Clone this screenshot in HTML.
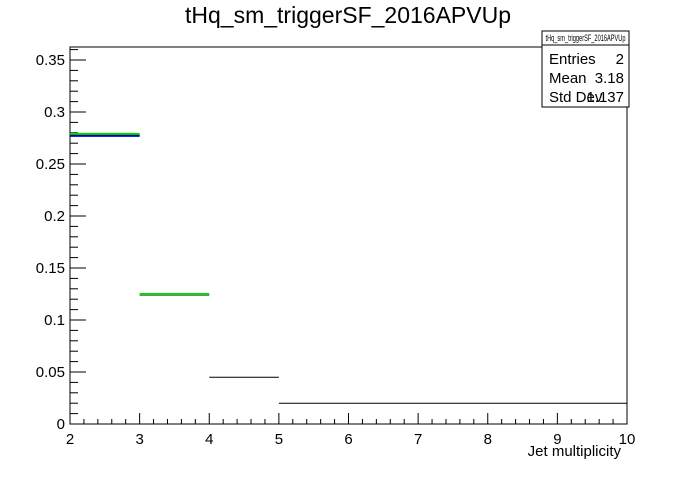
<!DOCTYPE html>
<html><head><meta charset="utf-8"><style>
body{margin:0;background:#fff;}
svg text{font-family:"Liberation Sans",Arial,sans-serif;}
</style></head><body>
<svg id="c" width="696" height="472" xmlns="http://www.w3.org/2000/svg">
<rect width="696" height="472" fill="#fff"/>
<text x="348" y="23" font-size="23" text-anchor="middle">tHq_sm_triggerSF_2016APVUp</text>
<g id="plot"></g>
<g>
<rect x="542" y="31" width="87" height="76" fill="#fff" stroke="#000"/>
<line x1="542" y1="45" x2="629" y2="45" stroke="#000"/>
<text x="585.5" y="41" font-size="9" text-anchor="middle" textLength="80" lengthAdjust="spacingAndGlyphs">tHq_sm_triggerSF_2016APVUp</text>
<text x="549" y="64" font-size="15">Entries</text><text x="624" y="64" font-size="15" text-anchor="end">2</text>
<text x="549" y="83" font-size="15">Mean</text><text x="624" y="83" font-size="15" text-anchor="end">3.18</text>
<text x="549" y="102" font-size="15">Std Dev</text><text x="624" y="102" font-size="15" text-anchor="end">1.137</text>
</g>
</svg>
<script>
const binEdges=[2,3,4,5,10];
const binValues=[0.278,0.124,0.045,0.020];
const greenValues=[0.279,0.125,null,null];
const blueValues=[0.277,null,null,null];
const xTicks=[2,3,4,5,6,7,8,9,10];
const yTicks=[0,0.05,0.1,0.15,0.2,0.25,0.3,0.35];
const yTickLabels=["0","0.05","0.1","0.15","0.2","0.25","0.3","0.35"];

const L=70,R=627,T=47,B=424,xmin=2,xmax=10,ymin=0,ymax=0.3625;
const X=v=>L+(v-xmin)/(xmax-xmin)*(R-L);
const Y=v=>B-(v-ymin)/(ymax-ymin)*(B-T);
const NS="http://www.w3.org/2000/svg";
const g=document.getElementById('plot');
function mk(t,a,p){const e=document.createElementNS(NS,t);for(const k in a)e.setAttribute(k,a[k]);(p||g).appendChild(e);return e;}
const frame=mk('rect',{x:L,y:T,width:R-L,height:B-T,fill:'none',stroke:'#000'});


for(let i=0;i<=36;i++){const v=i*0.01;const y=Y(v);const maj=i%5==0;
 const t=mk('line',{x1:L,y1:y,x2:L+(maj?16:8),y2:y,stroke:'#000'});
 
 }
yTicks.forEach((v,i)=>{const t=mk('text',{x:L-5,y:Y(v)+5,'font-size':15,'text-anchor':'end'});t.textContent=yTickLabels[i];
 
 });
for(let i=0;i<=40;i++){const v=xmin+i*0.2;const x=X(v);const maj=i%5==0;
 const t=mk('line',{x1:x,y1:B,x2:x,y2:B-(maj?11:5),stroke:'#000'});
 
 }
xTicks.forEach(v=>{const t=mk('text',{x:X(v),y:B+20,'font-size':15,'text-anchor':'middle'});t.textContent=v;
 
 });
const xt=mk('text',{x:R-6,y:456,'font-size':15,'text-anchor':'end'});xt.textContent='Jet multiplicity';


function seg(vals,col,w,name){vals.forEach((v,i)=>{if(v==null)return;
 const l=mk('line',{x1:X(binEdges[i]),y1:Y(v),x2:X(binEdges[i+1]),y2:Y(v),stroke:col,'stroke-width':w});
 
 });}
seg(blueValues,'#0000ff',2,'bin-blue');
seg(binValues,'#000',1,'bin-black');
seg(greenValues,'#00dd00',2,'bin-green');
</script>
</body></html>
